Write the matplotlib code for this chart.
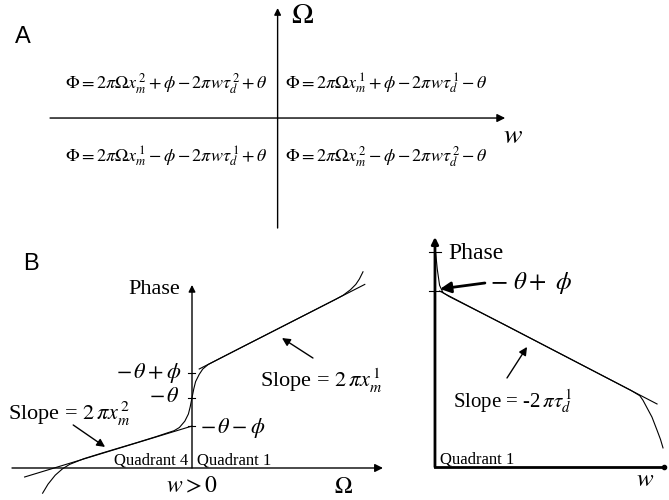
import matplotlib.pyplot as plt

plt.rcParams['mathtext.fontset'] = 'stix'
plt.rcParams['font.family'] = ['Liberation Serif', 'DejaVu Serif']

# ---- panel A: phase in the four quadrants ----
quad_eqs = {
    'upper_left': r'$\Phi = 2\pi\Omega x_m^{\,2} + \phi - 2\pi w\tau_d^{\,2} + \theta$',
    'upper_right': r'$\Phi = 2\pi\Omega x_m^{\,1} + \phi - 2\pi w\tau_d^{\,1} - \theta$',
    'lower_left': r'$\Phi = 2\pi\Omega x_m^{\,1} - \phi - 2\pi w\tau_d^{\,1} + \theta$',
    'lower_right': r'$\Phi = 2\pi\Omega x_m^{\,2} - \phi - 2\pi w\tau_d^{\,2} - \theta$',
}

# ---- panel B left: phase vs Omega ----
omega_curve = [-0.83, -0.80, -0.76, -0.72, -0.68, -0.60, -0.50, -0.40, -0.30, -0.20,
               -0.14, -0.10, -0.07, -0.04, -0.02, -0.01, 0.0, 0.01, 0.02, 0.04,
               0.06, 0.09, 0.15, 0.30, 0.50, 0.70, 0.80, 0.84, 0.88, 0.91, 0.93, 0.95]
phase_curve = [-0.14, -0.09, -0.04, -0.005, 0.02, 0.052, 0.083, 0.113, 0.143, 0.174,
               0.194, 0.207, 0.225, 0.26, 0.30, 0.34, 0.39, 0.44, 0.48, 0.52,
               0.55, 0.575, 0.606, 0.683, 0.785, 0.887, 0.938, 0.96, 0.99, 1.02, 1.05, 1.09]
upper_line_omega = [0.04, 0.96]
upper_line_phase = [0.55, 1.02]
lower_line_omega = [-0.93, 0.0]
lower_line_phase = [-0.05, 0.233]
tick_phase = [0.53, 0.39, 0.233]
tick_labels = [r'$-\,\theta + \phi$', r'$-\,\theta$', r'$-\,\theta - \phi$']

# ---- panel B right: phase vs w in quadrant 1 ----
w_curve = [0.003, 0.01, 0.02, 0.035, 0.06, 0.30, 0.60, 0.85, 0.89, 0.904, 0.92,
           0.943, 0.965, 0.98, 0.991]
phase_w_curve = [0.93, 0.86, 0.79, 0.758, 0.742, 0.620, 0.464, 0.334, 0.310, 0.29, 0.26,
                 0.217, 0.16, 0.12, 0.083]
w_line = [0.02, 0.965]
phase_w_line = [0.765, 0.274]
tick_phase_w = [0.935, 0.765]

W, H = 669, 500
fig = plt.figure(figsize=(W / 100, H / 100), dpi=100)


def box(x0, y0, x1, y1):
    # axes from a pixel box (top-left origin)
    ax = fig.add_axes([x0 / W, 1 - y1 / H, (x1 - x0) / W, (y1 - y0) / H])
    ax.set_axis_off()
    return ax


def arrow(ax, start, tip, lw=1.0, ms=10):
    ax.annotate('', xy=tip, xytext=start,
                arrowprops=dict(arrowstyle='-|>', lw=lw, color='black',
                                shrinkA=0, shrinkB=0, mutation_scale=ms))


# panel A
axA = box(0, 0, 669, 230)
axA.set_xlim(-1.22, 1.72)
axA.set_ylim(-1.018, 1.073)
arrow(axA, (-1.0, 0), (1.0, 0), ms=12)
arrow(axA, (0, -1.0), (0, 1.0), ms=10)
axA.text(-1.154, 0.736, 'A', family='Liberation Sans', fontsize=17, va='center', ha='left')
axA.text(0.06, 0.93, r'$\Omega$', fontsize=21, va='center', ha='left')
axA.text(1.035, -0.17, r'$w$', fontsize=20, va='center', ha='center')
axA.text(-0.488, 0.264, quad_eqs['upper_left'], fontsize=13, ha='center', va='baseline')
axA.text(0.479, 0.264, quad_eqs['upper_right'], fontsize=13, ha='center', va='baseline')
axA.text(-0.488, -0.4, quad_eqs['lower_left'], fontsize=13, ha='center', va='baseline')
axA.text(0.479, -0.4, quad_eqs['lower_right'], fontsize=13, ha='center', va='baseline')

# panel B left
axB = box(0, 240, 400, 500)
axB.set_xlim(-1.0667, 1.1556)
axB.set_ylim(-0.1778, 1.2667)
arrow(axB, (-1.0, 0), (1.061, 0), ms=12)
arrow(axB, (0, 0), (0, 1.017), ms=10)
axB.plot(omega_curve, phase_curve, color='black', lw=0.8, clip_on=False)
axB.plot(upper_line_omega, upper_line_phase, color='black', lw=0.8, clip_on=False)
axB.plot(lower_line_omega, lower_line_phase, color='black', lw=0.8, clip_on=False)
for p in tick_phase:
    axB.plot([-0.022, 0.017], [p, p], color='black', lw=0.8)
axB.text(-0.056, tick_phase[0], tick_labels[0], fontsize=16, ha='right', va='center')
axB.text(-0.067, tick_phase[1], tick_labels[1], fontsize=16, ha='right', va='center')
axB.text(0.044, tick_phase[2] - 0.01, tick_labels[2], fontsize=16, ha='left', va='center')
axB.text(-0.939, 1.133, 'B', family='Liberation Sans', fontsize=17, ha='left', va='center')
axB.text(-0.067, 0.99, 'Phase', fontsize=16, ha='right', va='center')
axB.text(0.0, -0.106, r'$w > 0$', fontsize=17, ha='center', va='center')
axB.text(0.839, -0.106, r'$\Omega$', fontsize=17, ha='center', va='center')
axB.text(0.378, 0.45, r'Slope = $2\,\pi x_m^{\,1}$', fontsize=16, ha='left', va='baseline')
axB.text(-1.022, 0.267, r'Slope = $2\,\pi x_m^{\,2}$', fontsize=16, ha='left', va='baseline')
axB.text(-0.022, 0.017, 'Quadrant 4', fontsize=12, ha='right', va='baseline')
axB.text(0.028, 0.017, 'Quadrant 1', fontsize=12, ha='left', va='baseline')
arrow(axB, (0.672, 0.611), (0.5, 0.722), ms=12)
arrow(axB, (-0.66, 0.239), (-0.483, 0.117), ms=12)

# panel B right
axC = box(400, 230, 669, 500)
axC.set_xlim(-0.152, 1.017)
axC.set_ylim(-0.1435, 1.0304)
arrow(axC, (0, 0), (0, 1.0), lw=2.0, ms=10)
axC.plot([0, 0.995], [0, 0], color='black', lw=2.0, clip_on=False)
axC.plot([0.995], [0], marker='o', ms=3, color='black', clip_on=False)
axC.plot(w_curve, phase_w_curve, color='black', lw=0.8, clip_on=False)
axC.plot(w_line, phase_w_line, color='black', lw=0.8, clip_on=False)
for p in tick_phase_w:
    axC.plot([-0.025, 0.025], [p, p], color='black', lw=0.8)
axC.text(0.057, 0.93, 'Phase', fontsize=17, ha='left', va='center')
axC.text(0.239, 0.8, r'$-\ \theta + \ \phi$', fontsize=18, ha='left', va='center')
arrow(axC, (0.217, 0.8), (0.022, 0.774), lw=2.0, ms=16)
axC.text(0.078, 0.257, r'Slope = -2$\,\pi\tau_d^{\,1}$', fontsize=15, ha='left', va='baseline')
arrow(axC, (0.313, 0.387), (0.4, 0.522), ms=12)
axC.text(0.022, 0.017, 'Quadrant 1', fontsize=12, ha='left', va='baseline')
axC.text(0.913, -0.057, r'$w$', fontsize=18, ha='center', va='center')

fig.savefig('out.png', dpi=100)
